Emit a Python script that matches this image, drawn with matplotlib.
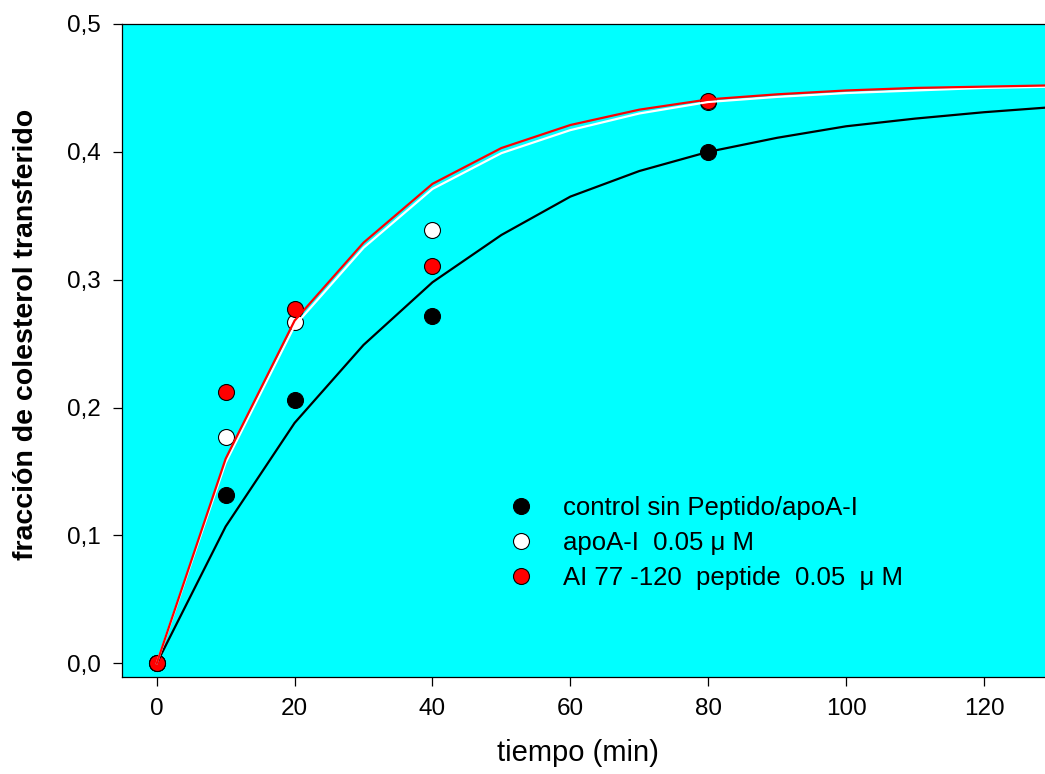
import numpy as np
import matplotlib.pyplot as plt
from matplotlib.ticker import FuncFormatter

plt.rcParams['font.family'] = ['Liberation Sans', 'DejaVu Sans']

# measured points
t_obs = [0, 10, 20, 40, 80]
control = [0.0, 0.132, 0.206, 0.272, 0.400]
apoA = [0.0, 0.177, 0.267, 0.339, 0.439]
pept = [0.0, 0.212, 0.277, 0.311, 0.440]

# fitted curves
t_fit = [0, 10, 20, 30, 40, 50, 60, 70, 80, 90, 100, 110, 120, 130]
control_fit = [0.0, 0.107, 0.188, 0.249, 0.298, 0.335, 0.365, 0.385, 0.400,
               0.411, 0.420, 0.426, 0.431, 0.435]
apoA_fit = [0.0, 0.157, 0.264, 0.325, 0.371, 0.399, 0.417, 0.430, 0.439,
            0.443, 0.446, 0.448, 0.450, 0.451]
pept_fit = [0.0, 0.160, 0.268, 0.329, 0.375, 0.403, 0.421, 0.433, 0.441,
            0.445, 0.448, 0.450, 0.451, 0.452]

labels = ['control sin Peptido/apoA-I',
          'apoA-I  0.05 \u03bc M',
          'AI 77 -120  peptide  0.05  \u03bc M']

fig = plt.figure(figsize=(10.45, 7.74), dpi=100)
ax = fig.add_axes([0.117, 0.1257, 0.8906, 0.8433])
ax.set_facecolor('#00ffff')

ax.plot(t_fit, control_fit, color='black', lw=1.6, zorder=3)
ax.plot(t_fit, apoA_fit, color='white', lw=1.6, zorder=3)
ax.plot(t_fit, pept_fit, color='red', lw=1.6, zorder=3)

mk = dict(ls='none', marker='o', ms=11.5, mec='black', mew=0.8, zorder=2)
h1, = ax.plot(t_obs, control, mfc='black', label=labels[0], **mk)
h2, = ax.plot(t_obs, apoA, mfc='white', label=labels[1], **mk)
h3, = ax.plot(t_obs, pept, mfc='red', label=labels[2], **mk)

ax.set_xlim(-5, 130)
ax.set_ylim(-0.0105, 0.5)
ax.set_xticks([0, 20, 40, 60, 80, 100, 120])
ax.set_yticks([0, 0.1, 0.2, 0.3, 0.4, 0.5])
ax.yaxis.set_major_formatter(FuncFormatter(lambda v, p: f'{v:.1f}'.replace('.', ',')))
ax.tick_params(direction='out', length=6.5, width=0.9, labelsize=17.5, pad=9,
               top=False, right=False)
for s in ax.spines.values():
    s.set_linewidth(0.9)

ax.set_xlabel('tiempo (min)', fontsize=21)
ax.set_ylabel('fracci\u00f3n de colesterol transferido', fontsize=20.5,
              fontweight='bold')
ax.xaxis.set_label_coords(0.4896, -0.095)
ax.yaxis.set_label_coords(-0.0895, 0.524)

ax.legend(handles=[h1, h2, h3], loc='upper left', bbox_to_anchor=(0.4144, 0.277),
          frameon=False, fontsize=18.5, handlelength=1.0, handletextpad=1.15,
          borderpad=0, borderaxespad=0, labelspacing=0.43, numpoints=1)

fig.savefig('out.png', dpi=100)
